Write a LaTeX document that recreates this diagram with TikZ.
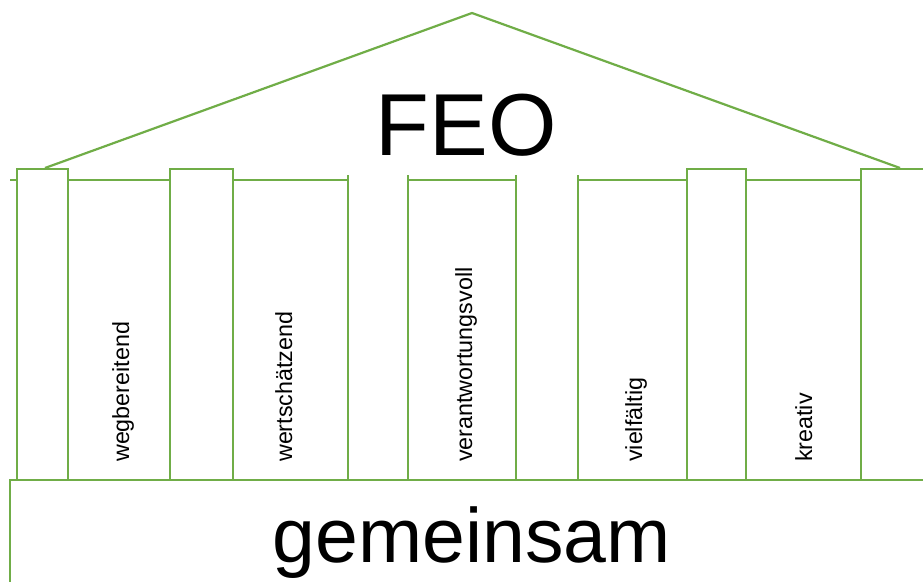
\documentclass[tikz,border=0pt]{standalone}
\usepackage{fontspec}
\setmainfont{Liberation Sans}
\definecolor{feogreen}{RGB}{112,173,71}
\begin{document}
\begin{tikzpicture}[x=1pt,y=-1pt,
  edge/.style={draw=feogreen,line width=2.2pt},
  thin/.style={draw=feogreen,line width=2pt},
  lbl/.style={rotate=90,anchor=base west,inner sep=0pt,font=\fontsize{23.3}{24}\selectfont},
  line join=miter]
\useasboundingbox (0,0) rectangle (923,581);
\clip (0,0) rectangle (923,581);
% roof
\coordinate (rl) at (45,168);
\coordinate (apex) at (472,13);
\coordinate (rr) at (900,168);
\draw[edge] (rl) -- (apex) -- (rr);
% thin panels
\draw[thin] (10,180) -- (17,180);
\draw[thin] (68,180) -- (170,180);
\draw[thin] (233,180) -- (348,180);
\draw[thin] (348,175) -- (348,480);
\draw[thin] (408,175) -- (408,480);
\draw[thin] (408,180) -- (516,180);
\draw[thin] (516,175) -- (516,480);
\draw[thin] (578,175) -- (578,480);
\draw[thin] (578,180) -- (687,180);
\draw[thin] (746,180) -- (861,180);
% pillars
\draw[edge] (17,480) -- (17,169) -- (68,169) -- (68,480);
\draw[edge] (170,480) -- (170,169) -- (233,169) -- (233,480);
\draw[edge] (687,480) -- (687,169) -- (746,169) -- (746,480);
\draw[edge] (861,480) -- (861,169) -- (930,169);
% base
\draw[edge] (10,590) -- (10,480) -- (930,480);
% texts
\node[anchor=base,inner sep=0pt,font=\fontsize{88}{88}\selectfont] (feo) at (466,155) {FEO};
\node[anchor=base,inner sep=0pt,font=\fontsize{77}{77}\selectfont] (gem) at (472,562) {gemeinsam};
\node[lbl] (weg) at (129,462) {wegbereitend};
\node[lbl] (wert) at (292,462) {wertschätzend};
\node[lbl] (ver) at (472,462) {verantwortungsvoll};
\node[lbl] (viel) at (642,462) {vielfältig};
\node[lbl] (krea) at (812,462) {kreativ};
\end{tikzpicture}
\end{document}
